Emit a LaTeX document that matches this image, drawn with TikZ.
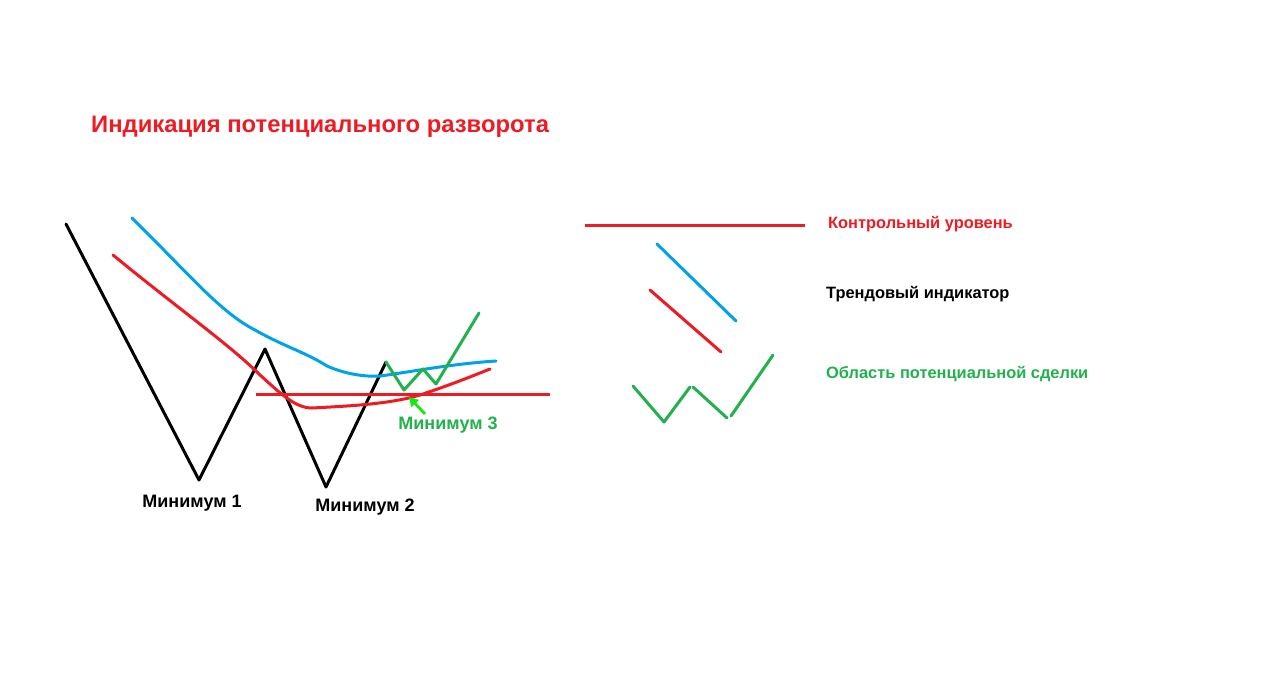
\documentclass[tikz,border=0pt]{standalone}
\usepackage{fontspec}
\setmainfont{Liberation Sans}
\usetikzlibrary{arrows.meta}
\definecolor{pred}{RGB}{237,28,36}
\definecolor{pblue}{RGB}{0,162,232}
\definecolor{pgreen}{RGB}{34,177,76}
\definecolor{lgreen}{RGB}{20,235,20}
\tikzset{
  stroke/.style={line width=3pt, line join=round, line cap=round},
  lbl/.style={font=\fontsize{16.4}{19}\selectfont\bfseries, inner sep=0pt, anchor=west},
  minlbl/.style={font=\fontsize{18}{21}\selectfont\bfseries, inner sep=0pt, anchor=center},
}
\begin{document}
\begin{tikzpicture}[x=1pt,y=-1pt]
\useasboundingbox (0,0) rectangle (1276,681);
\fill[white] (0,0) rectangle (1276,681);
% title
\node[lbl, font=\fontsize{23.8}{28}\selectfont\bfseries, text=pred] (title) at (91,127) {Индикация потенциального разворота};
% black zigzag
\draw[stroke, black] (66,224) -- (199,480) -- (265,349) -- (326,487) -- (386,362);
% blue curve
\draw[stroke, pblue] (132,218) .. controls (190,275) and (220,312) .. (255,330)
  .. controls (285,347) and (305,352) .. (327,366)
  .. controls (345,374) and (365,377) .. (380,376)
  .. controls (410,372) and (450,364) .. (496,361);
% red curve
\draw[stroke, pred] (113,255) .. controls (180,310) and (230,345) .. (260,375)
  .. controls (280,393) and (295,408) .. (312,408)
  .. controls (350,406) and (390,404) .. (420,395)
  .. controls (450,385) and (470,377) .. (490,369);
% control level
\draw[stroke, pred, line cap=butt] (256,394) -- (550,394);
% green zigzag
\draw[stroke, pgreen] (386,362) -- (404,390) -- (423,369) -- (436,384) -- (479,313);
% arrow
\coordinate (a0) at (425,414);
\coordinate (a1) at (409,397);
\draw[lgreen, line width=2.8pt, -{Triangle[length=9pt,width=10pt]}] (a0) -- (a1);
% labels
\node[minlbl] (m1) at (192,503) {Минимум 1};
\node[minlbl] (m2) at (365,507) {Минимум 2};
\node[minlbl, text=pgreen] (m3) at (448,425) {Минимум 3};
% legend
\draw[stroke, pred, line cap=butt] (585,225) -- (805,225);
\node[lbl, text=pred] (l1) at (828,224) {Контрольный уровень};
\draw[stroke, pblue] (657,244) -- (736,321);
\draw[stroke, pred] (650,290) -- (721,352);
\node[lbl] (l2) at (826,294) {Трендовый индикатор};
\draw[stroke, pgreen] (633,386) -- (664,422) -- (690,387);
\draw[stroke, pgreen] (693,387) -- (727,418);
\draw[stroke, pgreen] (731,416) -- (773,355);
\node[lbl, text=pgreen] (l3) at (826,374) {Область потенциальной сделки};
\end{tikzpicture}
\end{document}
